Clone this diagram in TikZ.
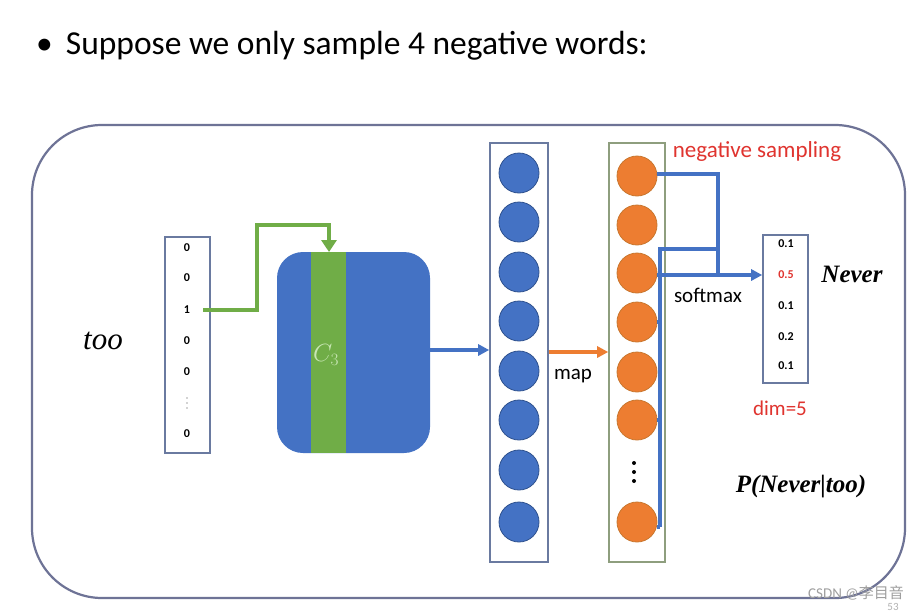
\documentclass[tikz,border=0pt]{standalone}
\usepackage{fontspec}
\setmainfont{Carlito}
\newfontfamily\serifit{Liberation Serif}
\newfontfamily\cjk{Noto Sans CJK SC}
\usetikzlibrary{arrows.meta}
\definecolor{frameC}{HTML}{6E7396}
\definecolor{blueC}{HTML}{4472C4}
\definecolor{blueD}{HTML}{2F528F}
\definecolor{orangeC}{HTML}{ED7D31}
\definecolor{orangeD}{HTML}{C9772F}
\definecolor{greenC}{HTML}{70AD47}
\definecolor{paleG}{HTML}{C8E6B4}
\definecolor{redC}{HTML}{E0342F}
\definecolor{boxG}{HTML}{8E9E7E}
\definecolor{boxB}{HTML}{6A7AA0}
\tikzset{
  bluecirc/.style={circle, fill=blueC, draw=blueD, line width=0.8pt, minimum size=40pt, inner sep=0pt},
  orcirc/.style={circle, fill=orangeC, draw=orangeD, line width=0.8pt, minimum size=40pt, inner sep=0pt},
  colbox/.style={draw=boxB, line width=1.6pt},
  vecnum/.style={font=\bfseries\fontsize{12}{14}\selectfont, inner sep=0pt},
  bluearrow/.style={draw=blueC, line width=3.4pt, -{Triangle[length=11pt,width=11pt]}},
  blueline/.style={draw=blueC, line width=3.4pt},
  lbl/.style={font=\fontsize{21}{24}\selectfont, inner sep=0pt},
  dotc/.style={circle, fill=black, minimum size=4pt, inner sep=0pt},
  smalldot/.style={circle, fill=gray!70, minimum size=1.6pt, inner sep=0pt},
}
\begin{document}
\begin{tikzpicture}[x=1pt,y=-1pt]
\useasboundingbox (0,0) rectangle (920,613);
\fill[white] (0,0) rectangle (920,613);
% title
\node[anchor=west, inner sep=0pt, font=\fontsize{33.5}{38}\selectfont] (title) at (36,46) {\textbullet\hspace{13pt}Suppose we only sample 4 negative words:};
% outer frame
\draw[frameC, line width=2.2pt, rounded corners=70pt] (32,125) rectangle (905,598);
% too
\node[font=\serifit\itshape\fontsize{31}{34}\selectfont, inner sep=0pt] (too) at (103,341) {too};
% one-hot vector
\node[colbox, minimum width=45pt, minimum height=216pt, inner sep=0pt] (onehot) at (187.5,345) {};
\foreach \v/\y [count=\i] in {0/248,0/278,1/310,0/341,0/372,0/434}{
  \node[vecnum] (oh\i) at (187,\y) {\v};
}
\node[smalldot] (ohd1) at (187,398) {};
\node[smalldot] (ohd2) at (187,403) {};
\node[smalldot] (ohd3) at (187,408) {};
% matrix
\fill[blueC, rounded corners=26pt] (277,252) rectangle (430,453);
\node[coordinate] (matTop) at (329,252) {};
\node[coordinate] (matE) at (430,350) {};
\fill[greenC] (311,252) rectangle (346,453);
\node[text=paleG, font=\fontsize{24}{28}\selectfont, inner sep=0pt] (c3) at (326,355) {$C_3$};
% green arrow
\draw[greenC, line width=3.8pt, -{Triangle[length=12pt,width=15pt]}] (203,310) -| (257,225) -| (matTop);
% hidden column
\node[colbox, minimum width=58pt, minimum height=419pt, inner sep=0pt] (hcol) at (519,352.5) {};
\foreach \y [count=\i] in {173,222,272,321,371,420,470,522}{
  \node[bluecirc] (h\i) at (519,\y) {};
}
\draw[bluearrow] (matE) -- (hcol.west |- matE);
% output column
\node[draw=boxG, line width=1.6pt, minimum width=56pt, minimum height=419pt, inner sep=0pt] (ocol) at (637,352.5) {};
\foreach \y [count=\i] in {176,225,273,322,372,420,522}{
  \node[orcirc] (o\i) at (637,\y) {};
}
\node[dotc] (od1) at (634,463) {};
\node[dotc] (od2) at (634,472) {};
\node[dotc] (od3) at (634,481) {};
% map arrow
\draw[draw=orangeC, line width=3.4pt, -{Triangle[length=11pt,width=11pt]}] (hcol.east |- 0,352) -- (ocol.west |- 0,352);
\node[lbl] (map) at (573,376) {map};
% negative sampling
\node[lbl, text=redC, font=\fontsize{23}{26}\selectfont] (neg) at (757,151) {negative sampling};
% output vector
\node[colbox, minimum width=45pt, minimum height=148pt, inner sep=0pt] (outv) at (785.5,309) {};
\foreach \v/\y [count=\i] in {0.1/244,0.5/275,0.1/306,0.2/337,0.1/366}{
  \node[vecnum] (ov\i) at (786,\y) {\ifnum\i=2 \textcolor{redC}{\v}\else\v\fi};
}
% blue connectors
\coordinate (j1) at (718,275);
\coordinate (b1) at (660,249);
\coordinate (b2) at (660,527);
\draw[blueline] (o1.east |- 0,174) -| (j1);
\draw[blueline] (b2) -- (o7.east |- b2);
\draw[blueline] (b2) -- (b1) -- (718,249);
\draw[blueline] (o4.east) -- (660,322);
\draw[blueline] (o6.east) -- (660,420);
\draw[bluearrow] (o3.east |- j1) -- (outv.west |- j1);
\node[lbl] (softmax) at (708,295) {softmax};
% Never, dim
\node[font=\serifit\bfseries\itshape\fontsize{25}{28}\selectfont, inner sep=0pt] (never) at (852,274) {Never};
\node[lbl, text=redC] (dim) at (780,408) {dim=5};
\node[font=\serifit\bfseries\itshape\fontsize{25}{28}\selectfont, inner sep=0pt] (prob) at (801,487) {P(Never|too)};
% watermark
\node[text=gray!60, font=\fontsize{11}{13}\selectfont, inner sep=0pt] (num) at (893,607) {53};
\node[text=gray!75, font=\fontsize{15}{17}\selectfont, inner sep=0pt] (wm) at (856,593) {CSDN @{\cjk 李目音}};
\end{tikzpicture}
\end{document}
